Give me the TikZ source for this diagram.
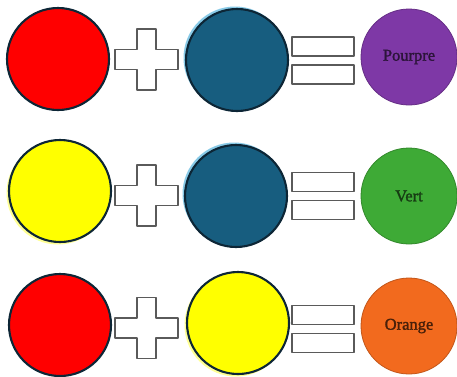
\documentclass[tikz,border=0pt]{standalone}
\usepackage{fontspec}
\setmainfont{Liberation Serif}
\newfontfamily\labelfont[FakeBold=1.6]{Liberation Serif}
\begin{document}
\begin{tikzpicture}[x=1pt,y=-1pt,
  paint/.style={circle,draw=navy,line width=2.1pt,minimum size=102pt,inner sep=0pt},
  mix/.style={circle,line width=0.8pt,minimum size=96pt,inner sep=0pt,
    font=\labelfont\fontsize{16.5}{16.5}\selectfont},
  sign/.style={draw=signgray,fill=white,line width=1.4pt,line join=round}]
\definecolor{navy}{HTML}{0D2636}
\definecolor{signgray}{HTML}{5A5A5A}
\definecolor{paintred}{HTML}{FF0000}
\definecolor{paintblue}{HTML}{175D7F}
\definecolor{paintyellow}{HTML}{FFFF00}
\definecolor{halo}{HTML}{3AA8D8}
\definecolor{purplemix}{HTML}{7E38A6}
\definecolor{greenmix}{HTML}{3EAA36}
\definecolor{orangemix}{HTML}{F26A1E}
\useasboundingbox[fill=white] (0,0) rectangle (457,376);

% plus sign centred at (#1,#2)
\newcommand{\plussign}[2]{%
  \draw[sign] (#1-9.5,#2-30.5) -- (#1+9.5,#2-30.5) -- (#1+9.5,#2-10)
    -- (#1+31.5,#2-10) -- (#1+31.5,#2+10) -- (#1+9.5,#2+10)
    -- (#1+9.5,#2+30.5) -- (#1-9.5,#2+30.5) -- (#1-9.5,#2+10)
    -- (#1-31.5,#2+10) -- (#1-31.5,#2-10) -- (#1-9.5,#2-10) -- cycle;}
% equals sign centred at (#1,#2)
\newcommand{\equalsign}[2]{%
  \draw[sign] (#1-31,#2-23.5) rectangle (#1+31,#2-4.5);
  \draw[sign] (#1-31,#2+4.5) rectangle (#1+31,#2+23.5);}

% row 1: red + blue = purple
\fill[halo,opacity=0.6] (235,58) circle (51.5);
\node[paint,fill=paintred] (r1a) at (58,59) {};
\plussign{146.5}{59.5}
\node[paint,fill=paintblue] (r1b) at (237,60) {};
\equalsign{323}{60.5}
\node[mix,fill=purplemix,draw=purplemix!80!black,text=purplemix!35!black] (r1c) at (409,57) {Pourpre};

% row 2: yellow + blue = green
\fill[paintyellow!60,opacity=0.7] (58,193) circle (51.5);
\node[paint,fill=paintyellow] (r2a) at (60,191) {};
\plussign{146.5}{195.5}
\fill[halo,opacity=0.6] (234,194) circle (51.5);
\node[paint,fill=paintblue] (r2b) at (236,196) {};
\equalsign{323}{196}
\node[mix,fill=greenmix,draw=greenmix!80!black,text=greenmix!35!black] (r2c) at (409,196) {Vert};

% row 3: red + yellow = orange
\node[paint,fill=paintred] (r3a) at (60,325) {};
\plussign{146.5}{328}
\fill[paintyellow!60,opacity=0.7] (236,325) circle (51.5);
\node[paint,fill=paintyellow] (r3b) at (238,323) {};
\equalsign{323}{329}
\node[mix,fill=orangemix,draw=orangemix!80!black,text=orangemix!30!black] (r3c) at (409,326) {Orange};
\end{tikzpicture}
\end{document}
